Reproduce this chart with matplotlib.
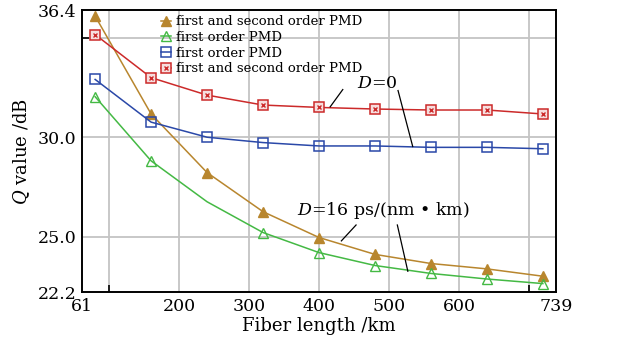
import matplotlib
matplotlib.use("Agg")
import matplotlib.pyplot as plt
from matplotlib.legend_handler import HandlerTuple

plt.rcParams['font.family'] = ['DejaVu Serif']
plt.rcParams['mathtext.fontset'] = 'dejavuserif'

# fiber length (km)
length = [80, 160, 240, 320, 400, 480, 560, 640, 720]

# D=16 ps/(nm*km)
gold_q = [36.1, 31.17, 28.22, 26.25, 24.95, 24.1, 23.64, 23.37, 23.0]
green_q = [32.04, 28.81, 26.75, 25.2, 24.19, 23.54, 23.14, 22.86, 22.63]
green_marks = [0, 1, 3, 4, 5, 6, 7, 8]

# D=0
blue_q = [32.91, 30.76, 30.0, 29.73, 29.56, 29.56, 29.49, 29.49, 29.42]
red_q = [35.17, 33.0, 32.12, 31.62, 31.5, 31.42, 31.37, 31.37, 31.17]

x_ticks = [61, 200, 300, 400, 500, 600, 739]
y_ticks = [22.2, 25.0, 30.0, 36.4]

gold = '#b8862e'
green = '#44b944'
blue = '#2a48a8'
red = '#cc2a2a'

fig = plt.figure(figsize=(6.2, 3.49), dpi=100)
ax = fig.add_axes([0.132, 0.163, 0.765, 0.808])

# grid
for gx in range(100, 800, 100):
    ax.axvline(gx, color='#c4c4c4', lw=1.3, zorder=0)
for gy in [25, 30, 35]:
    ax.axhline(gy, color='#c4c4c4', lw=1.3, zorder=0)

h1, = ax.plot(length, gold_q, color=gold, lw=1.1, marker='^', ms=6.5,
              mfc=gold, mec=gold)
h2, = ax.plot(length, green_q, color=green, lw=1.1, marker='^', ms=6.5,
              mfc='none', mec=green, markevery=green_marks)
h3, = ax.plot(length, blue_q, color=blue, lw=1.1, marker='s', ms=7,
              mfc='none', mec=blue, mew=1.1)
h4, = ax.plot(length, red_q, color=red, lw=1.1, marker='s', ms=6.5,
              mfc='#f6dede', mec=red, mew=1.1)
h4x, = ax.plot(length, red_q, ls='none', marker='x', ms=3.5, mec=red, mew=1.0)

ax.legend([h1, h2, h3, (h4, h4x)],
          ['first and second order PMD', 'first order PMD',
           'first order PMD', 'first and second order PMD'],
          handler_map={tuple: HandlerTuple(ndivide=1)},
          loc='upper left', bbox_to_anchor=(0.155, 1.0), frameon=False,
          fontsize=9.5, handlelength=0.8, handletextpad=0.4,
          labelspacing=0.2, borderaxespad=0)

# annotations
ax.text(483, 32.7, r'$D$=0', fontsize=12.5, ha='center', va='center')
ax.plot([434, 416], [32.4, 31.53], color='black', lw=0.9)
ax.plot([513, 534], [32.35, 29.53], color='black', lw=0.9)

ax.text(492, 26.3, r'$D$=16 ps/(nm • km)', fontsize=12.5, ha='center', va='center')
ax.plot([453, 432], [25.58, 24.78], color='black', lw=0.9)
ax.plot([512, 527], [25.58, 23.25], color='black', lw=0.9)

ax.set_xlim(61, 739)
ax.set_ylim(22.2, 36.4)
ax.set_xticks(x_ticks)
ax.set_xticklabels([str(v) for v in x_ticks])
ax.set_yticks(y_ticks)
ax.set_yticklabels(['%.1f' % v for v in y_ticks])
ax.tick_params(labelsize=12.5, direction='in', length=0, pad=4)
ax.set_xticks(range(100, 800, 100), minor=True)
ax.set_yticks([30, 35], minor=True)
ax.tick_params(which='minor', direction='in', length=5, width=1.2)

for s in ax.spines.values():
    s.set_linewidth(1.4)

ax.set_xlabel('Fiber length /km', fontsize=13, labelpad=2)
ax.set_ylabel(r'$Q$ value /dB', fontsize=13, labelpad=4)

fig.savefig('out.png', dpi=100)
